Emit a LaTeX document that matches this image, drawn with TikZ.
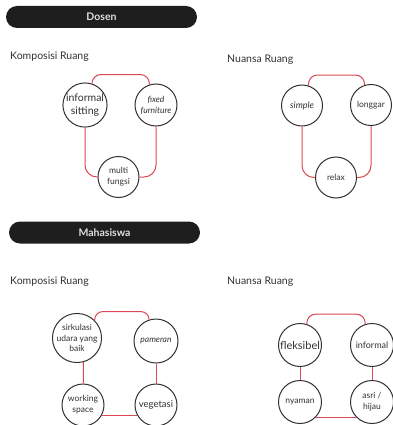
\documentclass[tikz,border=0pt]{standalone}
\usepackage{fontspec}
\setmainfont{Lato}
\usetikzlibrary{calc}
\definecolor{ink}{RGB}{50,50,50}
\definecolor{linkred}{RGB}{218,72,84}
\definecolor{barblack}{RGB}{30,30,30}
\newcommand{\fsz}[2]{\fontsize{#1}{#2}\selectfont}

\begin{document}
\begin{tikzpicture}[x=1pt, y=-1pt, inner sep=0pt,
  room/.style={circle, draw=ink, line width=1pt, fill=white, minimum size=#1, align=center, text=ink},
  link/.style={draw=linkred, line width=1pt, rounded corners=9pt},
  banner/.style={fill=barblack, rounded corners=11pt, minimum width=191pt, minimum height=22pt, text=white!88!black, font=\fsz{10.5}{12}\bfseries},
  subhead/.style={anchor=west, text=ink, font=\fsz{10.5}{12}}]
\useasboundingbox (0, 0) rectangle (392, 425);

% Dosen
\node[banner] (dosen) at (101.5, 17) {Dosen};
\node[subhead] (dk) at (10, 57) {Komposisi Ruang};
\node[subhead] (dn) at (227, 60) {Nuansa Ruang};

\node[room=41pt, font=\fsz{10.5}{13}] (dk1) at (85, 105) {informal\\sitting};
\node[room=42pt, font=\fsz{8.5}{11}\itshape] (dk2) at (156, 105) {fixed\\furniture};
\node[room=41pt, font=\fsz{8.5}{11}] (dk3) at (118.5, 177) {multi\\fungsi};

\draw[link] (dk1.72) |- ($(dk2.108) + (0, -10)$) -- (dk2.108);
\draw[link, rounded corners=12pt] (dk1) |- (dk3);
\draw[link, rounded corners=12pt] (dk2) |- (dk3);

\node[room=41pt, font=\fsz{9}{11}\itshape] (dn1) at (302, 105.5) {simple};
\node[room=41pt, font=\fsz{8.5}{11}] (dn2) at (371, 105) {longgar};
\node[room=41pt, font=\fsz{8.5}{11}] (dn3) at (336, 177.5) {relax};

\draw[link] (dn1.72) |- ($(dn2.108) + (0, -10)$) -- (dn2.108);
\draw[link, rounded corners=12pt] (dn1) |- (dn3);
\draw[link, rounded corners=12pt] (dn2) |- (dn3);

% Mahasiswa
\node[banner] (mhs) at (104.5, 232.5) {Mahasiswa};
\node[subhead] (mk) at (10, 282) {Komposisi Ruang};
\node[subhead] (mn) at (227, 282) {Nuansa Ruang};

\node[room=46pt, font=\fsz{8.5}{10.5}] (mk1) at (77, 338) {sirkulasi\\udara yang\\baik};
\node[room=44pt, font=\fsz{8.5}{11}\itshape] (mk2) at (156, 341) {pameran};
\node[room=42pt, font=\fsz{8.5}{11}] (mk3) at (83, 405) {working\\space};
\node[room=42pt, font=\fsz{9.5}{11}] (mk4) at (156, 405) {vegetasi};

\draw[link, rounded corners=8pt] (mk1.45) |- ($(mk2.108) + (0, -8)$) -- (mk2.108);
\draw[link] (mk1.-75) -- (mk3);
\draw[link] (mk2) -- (mk4);
\draw[link] (mk3.-28) -- (mk4.-152);

\node[room=43pt, font=\fsz{11}{13}] (mn1) at (300, 345) {fleksibel};
\node[room=43pt, font=\fsz{9}{11}] (mn2) at (372, 345) {informal};
\node[room=43pt, font=\fsz{8.5}{11}] (mn3) at (300, 402) {nyaman};
\node[room=43pt, font=\fsz{8.5}{11}] (mn4) at (372, 402) {asri /\\hijau};

\draw[link] (mn1.72) |- ($(mn2.108) + (0, -10)$) -- (mn2.108);
\draw[link] (mn1) -- (mn3);
\draw[link] (mn2) -- (mn4);
\draw[link] (mn3.-43) -- (mn4.-137);
\end{tikzpicture}
\end{document}
